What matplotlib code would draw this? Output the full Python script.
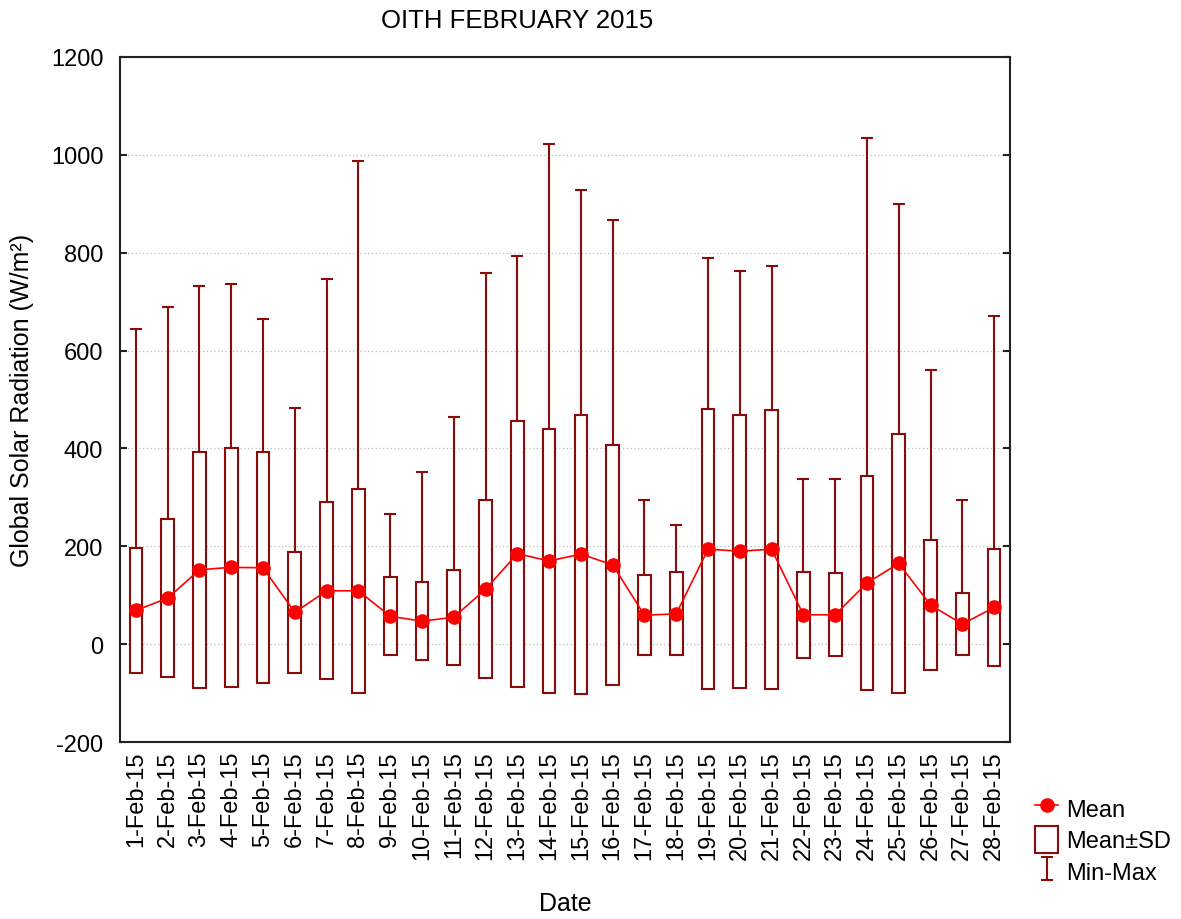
import numpy as np
import matplotlib
matplotlib.use("Agg")
import matplotlib.pyplot as plt
from matplotlib.patches import Rectangle
from matplotlib.ticker import FixedLocator

plt.rcParams['font.family'] = ['Liberation Sans', 'DejaVu Sans']
plt.rcParams['axes.unicode_minus'] = False

days = list(range(1, 29))
labels = [f"{d}-Feb-15" for d in days]

mean = [69, 94, 152, 157, 156, 65, 109, 109, 57, 47, 55, 112, 185, 170,
        184, 162, 59, 62, 194, 190, 194, 60, 60, 125, 165, 80, 41, 75]
sd = [128, 162, 241, 244, 236, 123, 181, 208, 80, 79, 97, 182, 272, 270,
      285, 246, 82, 85, 286, 279, 285, 88, 85, 219, 264, 132, 64, 120]
vmin = [0] * 28
vmax = [645, 689, 732, 736, 664, 483, 746, 988, 267, 352, 464, 758, 794, 1023,
        929, 866, 295, 244, 790, 762, 772, 338, 337, 1035, 900, 560, 294, 670]

dark = "#8b0a0a"
red = "#ff0000"

fig = plt.figure(figsize=(11.81, 9.2), dpi=100)
ax = fig.add_axes([120 / 1181, 177 / 920, 890 / 1181, 685 / 920])

mean_a = np.array(mean)
sd_a = np.array(sd)

# min-max whiskers
eb = ax.errorbar(days, vmin, yerr=[np.zeros(28), np.array(vmax) - np.array(vmin)],
                 fmt='none', ecolor=dark, elinewidth=1.5, capsize=4, capthick=1.5, zorder=2)

# mean +/- sd boxes
ax.bar(days, 2 * sd_a, bottom=mean_a - sd_a, width=0.4, facecolor='white',
       edgecolor=dark, linewidth=1.5, zorder=3)

# means
ln, = ax.plot(days, mean, color=red, marker='o', markersize=9.5, linewidth=1.2, zorder=4)

ax.set_xlim(0.5, 28.5)
ax.set_ylim(-200, 1200)
ax.set_yticks(range(-200, 1201, 200))
ax.set_xticks(days)
ax.set_xticklabels(labels, rotation=90, fontsize=17)
ax.tick_params(axis='x', which='major', length=0, pad=6)
ax.xaxis.set_minor_locator(FixedLocator(days[::2]))
ax.tick_params(axis='x', which='minor', direction='in', length=5, width=1.5, color='#222222')
ax.tick_params(axis='y', direction='in', length=5, width=1.5, right=True, labelsize=17,
               color='#222222', pad=12)
ax.grid(axis='y', linestyle=(0, (1, 2)), color='#bbbbbb', linewidth=0.9)
ax.set_axisbelow(True)
for s in ax.spines.values():
    s.set_linewidth(1.5)
    s.set_color('#222222')

fig.text(565 / 1181, 1 - 904 / 920, "Date", ha='center', va='center', fontsize=18)
ax.set_ylabel("Global Solar Radiation (W/m²)", fontsize=18, labelpad=12)
fig.text(517 / 1181, 1 - 21 / 920, "OITH FEBRUARY 2015", ha='center', va='center', fontsize=18.5)

box_handle = Rectangle((0, 0), 1, 1, facecolor='white', edgecolor=dark, linewidth=1.5)
fig.legend([ln, box_handle, eb], ["Mean", "Mean±SD", "Min-Max"],
           loc='upper left', bbox_to_anchor=(1026 / 1181, 1 - 786 / 920),
           frameon=False, fontsize=17, handlelength=0.95, handleheight=1.35,
           handletextpad=0.35, labelspacing=0.22, borderaxespad=0)

fig.savefig("out.png", dpi=100)
